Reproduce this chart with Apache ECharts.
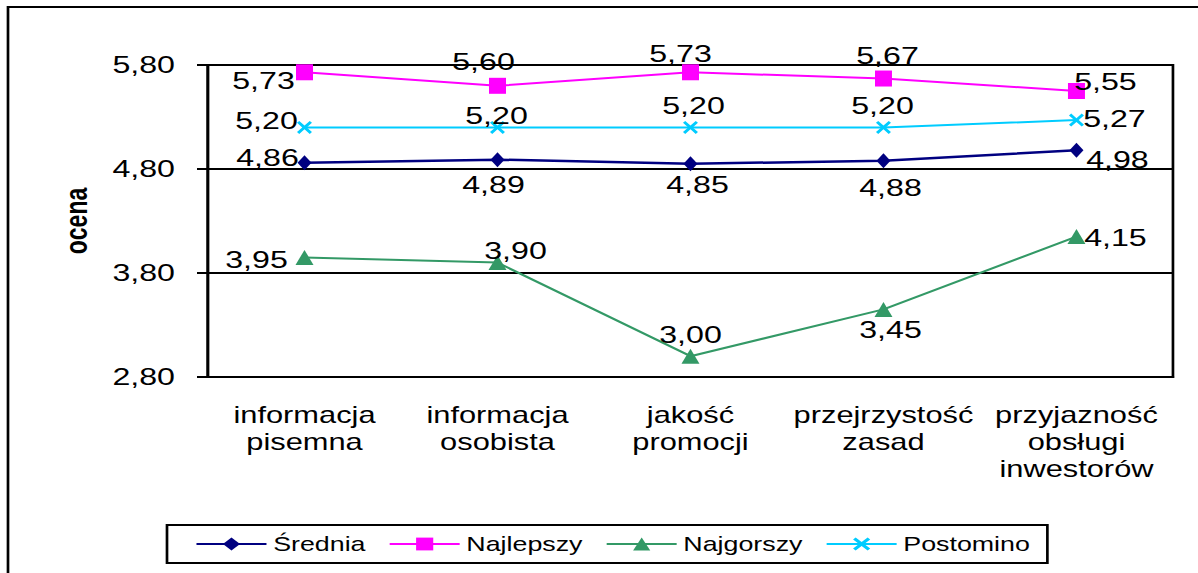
<!DOCTYPE html>
<html>
<head>
<meta charset="utf-8">
<script src="https://cdn.jsdelivr.net/npm/echarts@6/dist/echarts.min.js"></script>
<style>
  html, body { margin: 0; padding: 0; background: #fff; overflow: hidden; }
  /* the original picture is stretched sideways, so the chart is drawn narrower and widened */
  #chart { width: 894px; height: 573px; transform: scaleX(1.34); transform-origin: 0 0; }
</style>
</head>
<body>
<div id="chart"></div>
<script>
var S = 1.34;
var FONT = '"Liberation Sans", Arial, sans-serif';

var categories = ['informacja\npisemna', 'informacja\nosobista', 'jakość\npromocji', 'przejrzystość\nzasad', 'przyjazność\nobsługi\ninwestorów'];
var srednia   = [4.86, 4.89, 4.85, 4.88, 4.98];
var najlepszy = [5.73, 5.60, 5.73, 5.67, 5.55];
var najgorszy = [3.95, 3.90, 3.00, 3.45, 4.15];
var postomino = [5.20, 5.20, 5.20, 5.20, 5.27];
var yMin = 2.8, yMax = 5.8, yStep = 1;

// label nudges in screen pixels, per point
var offSrednia   = [[-37, -5], [-4, 25], [7, 21], [7, 27], [41, 9]];
var offNajlepszy = [[-41, 8], [-14, -24], [-10, -19], [4, -23], [29, -9]];
var offNajgorszy = [[-48, 2], [18, -12], [0, -22], [7, 20], [39, 1]];
var offPostomino = [[-38, -7], [-1, -12], [3, -22], [-1, -22], [38, -2]];

function fmt(v) { return Number(v).toFixed(2).replace('.', ','); }

function makeSeries(name, values, color, symbol, size, lw, offsets) {
  return {
    name: name,
    type: 'line',
    symbol: symbol,
    symbolSize: [size[0] / S, size[1]],
    lineStyle: { color: color, width: lw },
    itemStyle: { color: color },
    label: {
      show: true,
      position: 'inside',
      formatter: function (p) { return fmt(p.value); },
      color: '#000',
      fontSize: 24,
      fontFamily: FONT,
      textBorderWidth: 0
    },
    emphasis: { disabled: true },
    data: values.map(function (v, i) {
      return { value: v, label: { offset: [offsets[i][0] / S, offsets[i][1]] } };
    })
  };
}

var crossPath = 'path://M0,1.5L1.5,0L5,3.5L8.5,0L10,1.5L6.5,5L10,8.5L8.5,10L5,6.5L1.5,10L0,8.5L3.5,5Z';

var myChart = echarts.init(document.getElementById('chart'), null, { renderer: 'svg' });
myChart.setOption({
  animation: false,
  textStyle: { fontFamily: FONT },
  graphic: [{
    type: 'rect',
    shape: { x: 8 / S, y: 7, width: 2000, height: 2000 },
    style: { fill: 'none', stroke: '#000', lineWidth: 2 },
    silent: true
  }],
  grid: {
    left: 208 / S,
    right: 894.03 - 1173 / S,
    top: 65,
    bottom: 573 - 377,
    show: true,
    borderColor: '#000',
    borderWidth: 2,
    backgroundColor: 'transparent'
  },
  legend: {
    left: 167 / S,
    top: 525,
    orient: 'horizontal',
    itemWidth: 70 / S,
    itemHeight: 16,
    itemGap: 17,
    padding: [9, 13, 9, 21],
    borderColor: '#000',
    borderWidth: 2,
    textStyle: { fontSize: 20, color: '#000', fontFamily: FONT },
    data: ['Średnia', 'Najlepszy', 'Najgorszy', 'Postomino']
  },
  xAxis: {
    type: 'category',
    data: categories,
    axisLine: { lineStyle: { color: '#000', width: 2 } },
    axisTick: { lineStyle: { color: '#000', width: 2 }, length: 8 },
    axisLabel: { color: '#000', fontSize: 23, lineHeight: 27, margin: 24, fontFamily: FONT, interval: 0 }
  },
  yAxis: {
    type: 'value',
    min: yMin,
    max: yMax,
    interval: yStep,
    name: 'ocena',
    nameLocation: 'middle',
    nameGap: 116 / S,
    nameTextStyle: { color: '#000', fontSize: 23, fontWeight: 'bold', fontFamily: FONT },
    axisLine: { show: true, lineStyle: { color: '#000', width: 2 } },
    axisTick: { show: true, length: 11 / S, lineStyle: { color: '#000', width: 2 } },
    splitLine: { show: true, lineStyle: { color: '#000', width: 2 } },
    axisLabel: { color: '#000', fontSize: 24, margin: 33 / S, fontFamily: FONT, formatter: fmt }
  },
  series: [
    makeSeries('Średnia', srednia, '#000080', 'diamond', [14, 15], 2.5, offSrednia),
    makeSeries('Najlepszy', najlepszy, '#FF00FF', 'rect', [17, 16], 2, offNajlepszy),
    makeSeries('Najgorszy', najgorszy, '#339966', 'triangle', [18, 15], 2, offNajgorszy),
    makeSeries('Postomino', postomino, '#00CCFF', crossPath, [15, 13], 2, offPostomino)
  ]
});
</script>
</body>
</html>
